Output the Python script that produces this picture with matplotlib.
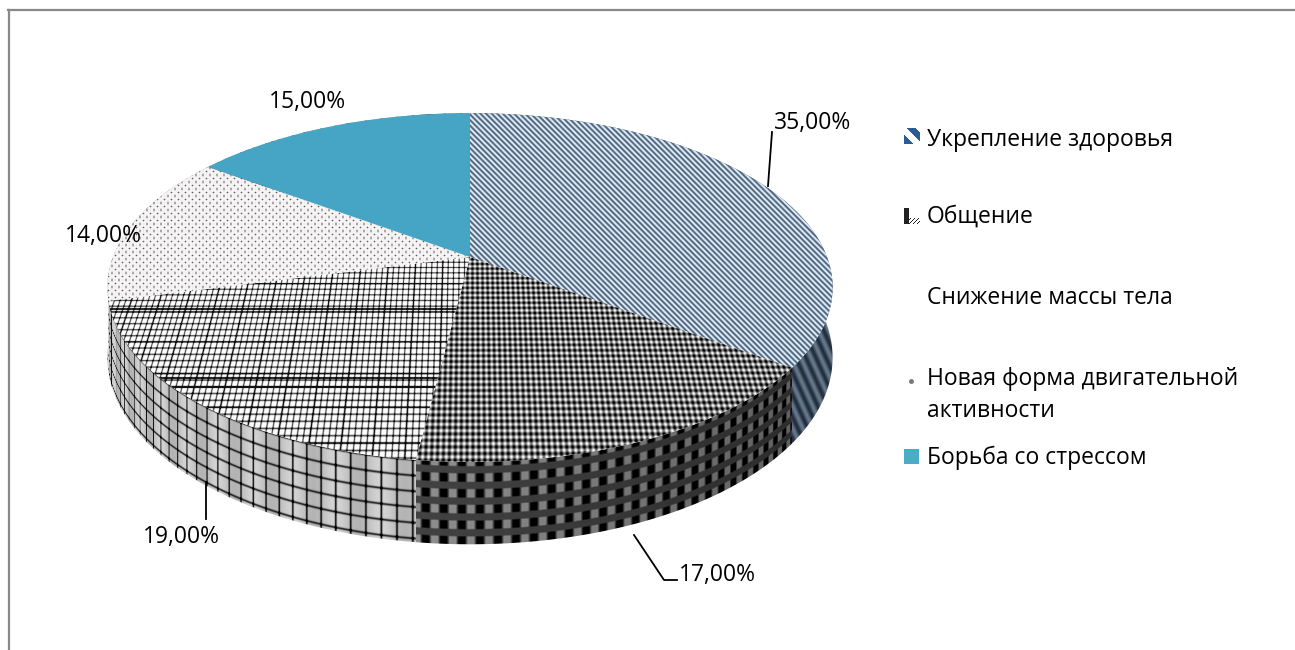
import numpy as np
import matplotlib
matplotlib.use("Agg")
import matplotlib.pyplot as plt
from matplotlib.colors import to_rgb
from matplotlib.patches import Polygon, Rectangle

plt.rcParams["font.family"] = ["Open Sans", "DejaVu Sans"]

# данные
categories = ["Укрепление здоровья", "Общение", "Снижение массы тела",
              "Новая форма двигательной\nактивности", "Борьба со стрессом"]
values = [35, 17, 19, 14, 15]
value_labels = ["35,00%", "17,00%", "19,00%", "14,00%", "15,00%"]

# геометрия диска в перспективе (пиксели картинки)
W, H = 1295, 650
CX, CY = 470, 257
RX, RY = 357, 169
P = 0.175
DEPTH = 68
FONT = 16.5

X, Y = np.meshgrid(np.arange(W) + 0.5, np.arange(H) + 0.5)


def project(theta, h=0.0):
    u, v = np.sin(theta), np.cos(theta)
    den = 1 + P * v
    return CX + RX * u / den, CY + (-RY * v + h) / den


def mix(t, c0, c1):
    t = np.clip(t, 0, 1)[..., None]
    return (1 - t) * np.array(to_rgb(c0)) + t * np.array(to_rgb(c1))


def line(t, period, width):
    # тёмная линия сетки: 1 на линии, 0 между линиями
    d = np.abs((t + period / 2) % period - period / 2)
    return np.exp(-(d / width) ** 2)


# координаты на верхней грани
den_top = 1 / (1 + P * (Y - CY) / RY)
U = (X - CX) / RX * den_top * RX
V = -(Y - CY) / RY * den_top * RY

# координаты на боковой стенке
th_lut = np.radians(np.linspace(260, 100, 800))
x_lut = project(th_lut)[0]
TH = np.interp(X, x_lut, th_lut)
rim_y = project(TH)[1]
S = TH * 430
Z = (Y - rim_y) * (1 + P * np.cos(TH))


def tex_stripes():
    return mix(0.5 + 0.55 * np.cos(2 * np.pi * (X - Y) / 5.6), "#4f6680", "#e2edf8")


def tex_dots():
    a = np.cos(2 * np.pi * U / 4.9)
    b = np.cos(2 * np.pi * V / 4.6)
    return mix(0.46 + 0.27 * (a + b), "#000000", "#ffffff")


def tex_grid():
    g = line(U, 5.4, 0.7) * 0.7 + line(V, 5.2, 0.7) * 0.7
    g = g + 0.3 * line(U, 27, 1.0) + 0.35 * line(V, 26, 0.8)
    for row in (309, 378, 387):
        g = g + 1.2 * np.exp(-((Y - row) / 0.9) ** 2)
    return mix(g, "#ffffff", "#111111")


def tex_speckle():
    a = np.cos(2 * np.pi * X / 7) * np.cos(2 * np.pi * Y / 7)
    b = np.cos(2 * np.pi * (X + 3.5) / 7) * np.cos(2 * np.pi * Y / 3.5)
    return mix(np.clip(a - 0.45, 0, 1) * 1.3 + 0.45 * np.clip(b - 0.5, 0, 1), "#f6f4f4", "#555555")


def tex_solid():
    return mix(np.zeros_like(X), "#46a5c4", "#46a5c4")


def wall_stripes():
    t = 0.5 + 0.5 * np.cos(2 * np.pi * (X - 0.45 * Y) / 10)
    return mix(t, "#222e3c", "#66788c")


def wall_dots():
    col = np.cos(2 * np.pi * S / 18)
    row = np.clip(1.6 * np.cos(2 * np.pi * Z / 13) + 0.7, 0, 1)
    black = np.clip(-2 * col, 0, 1) * row
    gray = np.clip(2 * col, 0, 1) * row
    shade = np.interp(X, [420, 790], [1.0, 0.68])
    val = (0.26 - 0.26 * black + 0.3 * gray) * shade
    return mix(val, "#000000", "#ffffff")


def wall_grid():
    g = 0.9 * line(S, 16, 1.1) + 0.8 * line(Z, 13, 1.0)
    base = mix(0.5 + 0.5 * np.cos(2 * np.pi * S / 48), "#b4b4b4", "#d4d4d4")
    return base * (1 - np.clip(g, 0, 1))[..., None]


top_textures = [tex_stripes, tex_dots, tex_grid, tex_speckle, tex_solid]
wall_textures = [wall_stripes, wall_dots, wall_grid, wall_grid, wall_grid]

fig = plt.figure(figsize=(W / 100, H / 100), dpi=100)
ax = fig.add_axes([0, 0, 1, 1])
ax.set_xlim(0, W)
ax.set_ylim(H, 0)
ax.axis("off")

edges = 2 * np.pi * np.cumsum([0] + values) / sum(values)


def painted(poly, tex):
    patch = Polygon(poly, closed=True, facecolor="none", edgecolor="none")
    ax.add_patch(patch)
    im = ax.imshow(tex, extent=(0, W, H, 0), interpolation="bilinear", aspect="auto")
    im.set_clip_path(patch)


# стенки
for i in range(len(values)):
    t = np.linspace(edges[i], edges[i + 1], 120)
    top = np.column_stack(project(t))
    bot = np.column_stack(project(t, DEPTH))
    painted(np.vstack([top, bot[::-1]]), wall_textures[i]())

# верхняя грань
for i in range(len(values)):
    t = np.linspace(edges[i], edges[i + 1], 120)
    poly = np.vstack([[CX, CY], np.column_stack(project(t))])
    painted(poly, top_textures[i]())

ax.set_xlim(0, W)
ax.set_ylim(H, 0)

# выноски
ax.plot([772, 768], [132, 186], color="black", lw=1.3)
ax.plot([206, 206], [482, 519], color="black", lw=1.3)
ax.plot([634, 664, 677], [535, 580, 580], color="black", lw=1.3)

label_xy = [(813, 123), (717, 575), (181, 537), (103, 236), (307, 102)]
for (lx, ly), s in zip(label_xy, value_labels):
    ax.text(lx, ly, s, ha="center", va="center", fontsize=FONT, color="black")

# легенда
legend_y = [140, 217, 298, 395, 458]
for name, ly in zip(categories, legend_y):
    ax.text(927, ly, name, ha="left", va="center", fontsize=FONT, color="black", linespacing=1.48)

sw = np.fromfunction(lambda r, c: ((c - r >= 3) & (c - r <= 11)) | (c - r <= -7), (16, 16))
ax.imshow(mix(sw.astype(float), "#ffffff", "#2c5a96"), extent=(904, 920, 144, 128),
          interpolation="bilinear", aspect="auto")
sw2 = np.fromfunction(lambda r, c: (c < 5) | ((c + r) % 4 < 1) & (r > 9), (16, 16))
ax.imshow(mix(sw2.astype(float), "#ffffff", "#222222"), extent=(904, 920, 224, 208),
          interpolation="bilinear", aspect="auto")
ax.plot([911], [381], marker="o", ms=2.5, color="#777777")
ax.add_patch(Rectangle((904, 449), 15, 15, facecolor="#4bacc6", edgecolor="none"))

ax.set_xlim(0, W)
ax.set_ylim(H, 0)

# рамка диаграммы: видны только верх и левый край
ax.plot([8, W], [10, 10], color="#888888", lw=1.6)
ax.plot([8.5, 8.5], [10, H], color="#888888", lw=1.6)

fig.savefig("out.png", dpi=100, facecolor="white")
